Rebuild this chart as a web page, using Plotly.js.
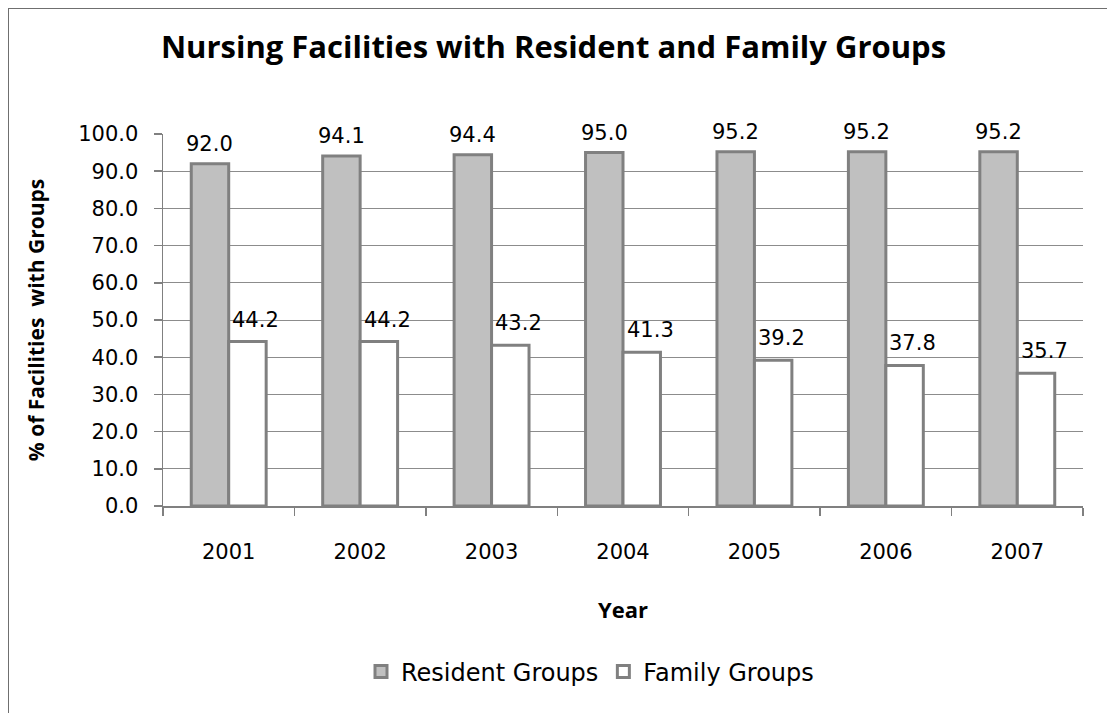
<!DOCTYPE html>
<html><head><meta charset="utf-8">
<script src="https://cdn.plot.ly/plotly-3.0.1.min.js"></script>
<style>
html,body{margin:0;padding:0;background:#fff;overflow:hidden;}
#chart{width:1107px;height:713px;position:absolute;left:0;top:0;}
#frame{position:absolute;left:8px;top:8px;width:1200px;height:800px;border:1.5px solid #6f6f6f;pointer-events:none;}
</style></head>
<body>
<div id="chart"></div>
<div id="frame"></div>
<script>
const years = ['2001','2002','2003','2004','2005','2006','2007'];
const residentGroups = [92.0, 94.1, 94.4, 95.0, 95.2, 95.2, 95.2];
const familyGroups = [44.2, 44.2, 43.2, 41.3, 39.2, 37.8, 35.7];
const yTicks = [0,10,20,30,40,50,60,70,80,90,100];

const NUMFONT = 'DejaVu Sans, sans-serif';
const TFONT = 'Open Sans, Noto Sans, sans-serif';
const traces = [
  {type:'bar', name:'Resident Groups', x:years, y:residentGroups,
   marker:{color:'#c0c0c0', line:{color:'#808080', width:3}}},
  {type:'bar', name:'Family Groups', x:years, y:familyGroups,
   marker:{color:'#ffffff', line:{color:'#808080', width:3}}}
];

const annotations = [];
years.forEach((yr,i)=>{
  annotations.push({x:i, y:residentGroups[i], xref:'x', yref:'y', text:residentGroups[i].toFixed(1),
    showarrow:false, xshift:-19, yshift:20, font:{family:NUMFONT, size:21, color:'#000'}});
  annotations.push({x:i, y:familyGroups[i], xref:'x', yref:'y', text:familyGroups[i].toFixed(1),
    showarrow:false, xshift:27, yshift:22, font:{family:NUMFONT, size:21, color:'#000'}});
});

const layout = {
  width:1107, height:713,
  margin:{l:163, r:24, t:134, b:207},
  paper_bgcolor:'#ffffff', plot_bgcolor:'#ffffff',
  font:{family:NUMFONT, color:'#000'},
  title:{text:'<b>Nursing Facilities with Resident and Family Groups</b>', xref:'container', x:0.5, xanchor:'center',
    yref:'container', y:1-47/713, yanchor:'middle', font:{family:TFONT, size:31, color:'#000'}},
  barmode:'group', bargap:0.43, bargroupgap:0,
  xaxis:{type:'category', categoryorder:'array', categoryarray:years, range:[-0.5, years.length-0.5], autorange:false,
    showgrid:false, showline:true, linecolor:'#808080', linewidth:1.5,
    ticks:'outside', tickson:'boundaries', ticklen:8, tickcolor:'#808080', tickwidth:1.5,
    tickangle:0, ticklabelstandoff:26, tickfont:{family:NUMFONT, size:21, color:'#000'},
    title:{text:'<b>Year</b>', font:{family:TFONT, size:22, color:'#000'}, standoff:40}},
  yaxis:{range:[0,100], autorange:false, tickvals:yTicks, ticktext:yTicks.map(v=>v.toFixed(1)),
    showgrid:true, gridcolor:'#8c8c8c', gridwidth:1, zeroline:false,
    showline:true, linecolor:'#808080', linewidth:1.5,
    ticks:'outside', ticklen:8, tickcolor:'#808080', tickwidth:1.5,
    ticklabelstandoff:11, tickfont:{family:NUMFONT, size:21, color:'#000'},
    title:{text:'<b>% of Facilities  with Groups</b>', font:{family:TFONT, size:21, color:'#000'}, standoff:28}},
  showlegend:true,
  legend:{orientation:'h', xref:'container', x:590/1107, xanchor:'center', yref:'container', y:1-672/713, yanchor:'middle',
    font:{family:NUMFONT, size:24, color:'#000'}, traceorder:'normal'},
  annotations: annotations
};

Plotly.newPlot('chart', traces, layout, {displayModeBar:false, staticPlot:true});
</script>
</body></html>
